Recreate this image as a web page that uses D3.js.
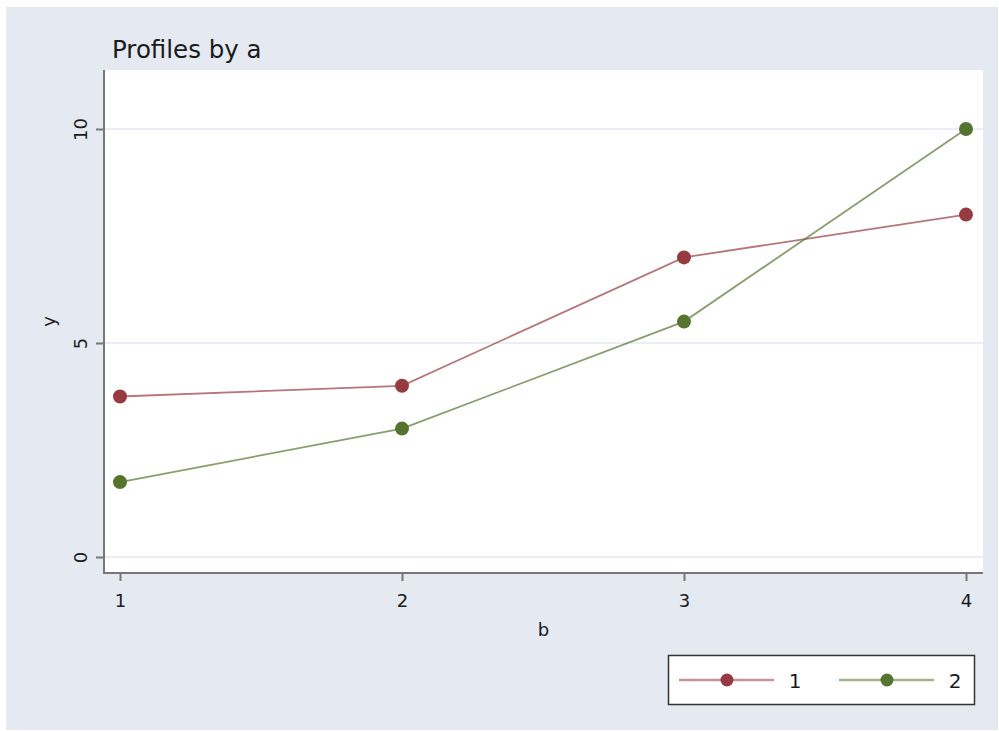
<!DOCTYPE html>
<html>
<head>
<meta charset="utf-8">
<script src="https://cdn.jsdelivr.net/npm/d3@7"></script>
<style>
  body { margin: 0; background: #fff; }
  text { font-family: "DejaVu Sans", sans-serif; fill: #1a1a1a; }
</style>
</head>
<body>
<div id="chart"></div>
<script>
// ======== Data ========
const bValues = [1, 2, 3, 4];
const series1 = [3.75, 4, 7, 8];
const series2 = [1.75, 3, 5.5, 10];
const seriesNames = ['1', '2'];
const seriesColors = ['#983a42', '#55752f'];
const yTicks = [0, 5, 10];

const width = 999, height = 731;

// plot region
const plot = { left: 104, right: 983, top: 70, bottom: 573 };

const svg = d3.select('#chart').append('svg')
    .attr('width', width)
    .attr('height', height);

// graph region background
svg.append('rect')
    .attr('x', 6).attr('y', 7)
    .attr('width', 992).attr('height', 723)
    .attr('fill', '#e5e9f2');

svg.append('rect')
    .attr('x', plot.left).attr('y', plot.top)
    .attr('width', plot.right - plot.left)
    .attr('height', plot.bottom - plot.top)
    .attr('fill', '#fff');

var x_scale = d3.scaleLinear().domain([1, 4]).range([120, 966]);
var y_scale = d3.scaleLinear().domain([0, 10]).range([557, 129]);

// gridlines
svg.append('g').selectAll('line')
    .data(yTicks)
    .enter().append('line')
    .attr('x1', plot.left).attr('x2', plot.right)
    .attr('y1', d => y_scale(d)).attr('y2', d => y_scale(d))
    .attr('stroke', '#eceef5')
    .attr('stroke-width', 2);

// ======== Axes ========
let yAxis = d3.axisLeft(y_scale).tickValues(yTicks).tickSize(8).tickFormat(d3.format('d'));
let gy = svg.append('g')
    .attr('transform', 'translate(' + plot.left + ',0)')
    .call(yAxis);
gy.select('.domain').remove();
gy.selectAll('.tick line').attr('stroke', '#777').attr('stroke-width', 2);
gy.selectAll('.tick text')
    .attr('font-size', 18)
    .attr('fill', '#1a1a1a')
    .attr('x', 0).attr('dy', 0)
    .attr('text-anchor', 'middle')
    .attr('transform', 'translate(-24,0) rotate(-90)')
    .attr('dominant-baseline', 'central');

svg.append('line')
    .attr('x1', plot.left).attr('x2', plot.left)
    .attr('y1', plot.top).attr('y2', plot.bottom + 1)
    .attr('stroke', '#777').attr('stroke-width', 2);

let xAxis = d3.axisBottom(x_scale).tickValues(bValues).tickSize(8).tickFormat(d3.format('d'));
let gx = svg.append('g')
    .attr('transform', 'translate(0,' + plot.bottom + ')')
    .call(xAxis);
gx.select('.domain').remove();
gx.selectAll('.tick line').attr('stroke', '#777').attr('stroke-width', 2);
gx.selectAll('.tick text')
    .attr('font-size', 18)
    .attr('fill', '#1a1a1a')
    .attr('y', 21);

svg.append('line')
    .attr('x1', plot.left - 1).attr('x2', plot.right)
    .attr('y1', plot.bottom).attr('y2', plot.bottom)
    .attr('stroke', '#777').attr('stroke-width', 2);

// axis titles
svg.append('text')
    .attr('transform', 'translate(48,' + ((plot.top + plot.bottom) / 2) + ') rotate(-90)')
    .attr('text-anchor', 'middle')
    .attr('dominant-baseline', 'central')
    .attr('font-size', 18)
    .text('y');

svg.append('text')
    .attr('x', (plot.left + plot.right) / 2)
    .attr('y', 636)
    .attr('text-anchor', 'middle')
    .attr('font-size', 18)
    .text('b');

// title
svg.append('text')
    .attr('x', 112).attr('y', 58)
    .attr('font-size', 24.5)
    .text('Profiles by a');

// ======== Lines + markers ========
const allSeries = [series1, series2];
const line = d3.line()
    .x((d, i) => x_scale(bValues[i]))
    .y(d => y_scale(d));

allSeries.forEach(function (s, k) {
    svg.append('path')
        .datum(s)
        .attr('d', line)
        .attr('fill', 'none')
        .attr('stroke', seriesColors[k])
        .attr('stroke-opacity', 0.7)
        .attr('stroke-width', 1.8);
    svg.append('g').selectAll('circle')
        .data(s)
        .enter().append('circle')
        .attr('cx', (d, i) => x_scale(bValues[i]))
        .attr('cy', d => y_scale(d))
        .attr('r', 7)
        .attr('fill', seriesColors[k]);
});

// ======== Legend ========
const legend = svg.append('g');
legend.append('rect')
    .attr('x', 668.5).attr('y', 655.5)
    .attr('width', 306).attr('height', 49)
    .attr('fill', '#fff')
    .attr('stroke', '#333')
    .attr('stroke-width', 1.5);

const legendX = [679, 839];
seriesNames.forEach(function (name, k) {
    let x0 = legendX[k];
    legend.append('line')
        .attr('x1', x0).attr('x2', x0 + 95)
        .attr('y1', 680).attr('y2', 680)
        .attr('stroke', seriesColors[k])
        .attr('stroke-opacity', 0.55)
        .attr('stroke-width', 2.5);
    legend.append('circle')
        .attr('cx', x0 + 48).attr('cy', 680)
        .attr('r', 6.5)
        .attr('fill', seriesColors[k]);
    legend.append('text')
        .attr('x', x0 + 116).attr('y', 688)
        .attr('text-anchor', 'middle')
        .attr('font-size', 20)
        .text(name);
});
</script>
</body>
</html>
